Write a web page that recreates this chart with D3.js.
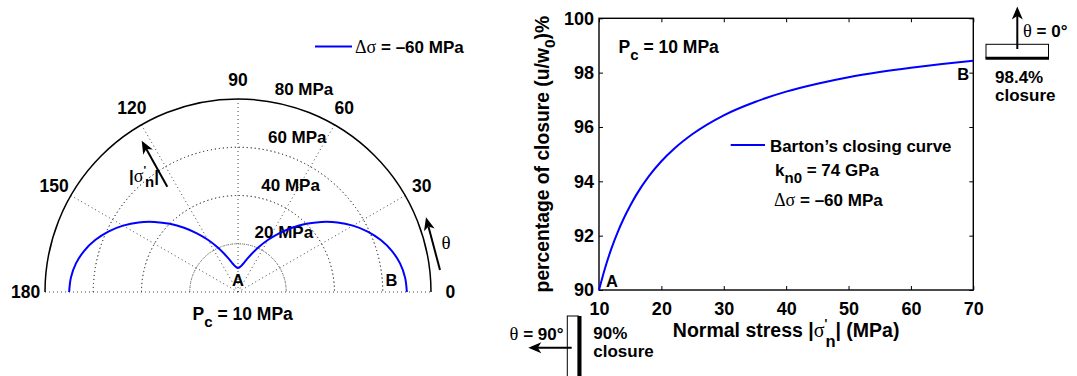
<!DOCTYPE html>
<html>
<head>
<meta charset="utf-8">
<script src="https://cdn.jsdelivr.net/npm/d3@7"></script>
<style>
  html, body { margin: 0; padding: 0; background: #fff; }
  svg { display: block; }
  text { font-family: "Liberation Sans", Arial, sans-serif; font-weight: bold; fill: #000; }
  .serif { font-family: "Liberation Serif", "Times New Roman", serif; font-weight: normal; }
</style>
</head>
<body>
<svg id="chart" width="1077" height="376"></svg>
<script>
// ---------------- DATA ----------------
// Polar plot: normal stress |sigma_n'| (MPa) vs orientation theta (deg)
const polarTheta = [0,5,10,15,20,25,30,35,40,45,50,55,60,65,70,75,80,85,90,
                    95,100,105,110,115,120,125,130,135,140,145,150,155,160,165,170,175,180];
const polarSigma = [70,69.5,68.2,66.0,63.0,59.3,55.0,50.3,45.2,40.0,34.8,29.7,25.0,20.7,17.0,14.0,11.8,10.5,10.0,
                    10.5,11.8,14.0,17.0,20.7,25.0,29.7,34.8,40.0,45.2,50.3,55.0,59.3,63.0,66.0,68.2,69.5,70];
const polarRingTicks = [20, 40, 60, 80];
const polarAngleTicks = [0, 30, 60, 90, 120, 150, 180];

// Right plot: Barton's closing curve
const stressX = [10,11,12,13,14,15,16,18,20,22,25,30,35,40,45,50,55,60,65,70];
const closurePct = [90.00,90.83,91.53,92.13,92.65,93.10,93.51,94.19,94.74,95.19,95.74,96.43,96.92,97.30,97.59,97.83,98.02,98.18,98.32,98.44];
const xTicks = [10,20,30,40,50,60,70];
const yTicks = [90,92,94,96,98,100];

// ---------------- SETUP ----------------
const svg = d3.select("#chart");
svg.append("rect").attr("width",1077).attr("height",376).attr("fill","#fff");
const BLUE = "#0000ff";

function arrow(g, x1, y1, x2, y2, opts = {}) {
  const len = opts.len || 13, half = opts.half || 5.5, notch = opts.notch || 3.5;
  const dx = x2 - x1, dy = y2 - y1, L = Math.hypot(dx, dy);
  const ux = dx / L, uy = dy / L, px = -uy, py = ux;
  g.append("line").attr("x1", x1).attr("y1", y1)
    .attr("x2", x2 - ux * (len - notch)).attr("y2", y2 - uy * (len - notch))
    .attr("stroke", "#000").attr("stroke-width", opts.w || 2);
  const bx = x2 - ux * len, by = y2 - uy * len;
  const nx = x2 - ux * (len - notch), ny = y2 - uy * (len - notch);
  g.append("path")
    .attr("d", `M${x2},${y2}L${bx + px * half},${by + py * half}L${nx},${ny}L${bx - px * half},${by - py * half}Z`)
    .attr("fill", "#000");
}

// ---------------- POLAR PLOT ----------------
const cx = 238, cy = 292, R = 193;
const rScale = d3.scaleLinear().domain([0, 80]).range([0, R]);
const toRad = d => d * Math.PI / 180;
const pg = svg.append("g");

// dotted rings
polarRingTicks.slice(0, -1).forEach(v => {
  const r = rScale(v);
  pg.append("path")
    .attr("d", d3.arc()({innerRadius: r, outerRadius: r, startAngle: -Math.PI/2, endAngle: Math.PI/2}))
    .attr("transform", `translate(${cx},${cy})`)
    .attr("fill", "none").attr("stroke", "#444").attr("stroke-width", 1).attr("stroke-dasharray", "1,3");
});
// spokes
[30, 60, 90, 120, 150].forEach(a => {
  pg.append("line")
    .attr("x1", cx).attr("y1", cy)
    .attr("x2", cx + rScale(80) * Math.cos(toRad(a)))
    .attr("y2", cy - rScale(80) * Math.sin(toRad(a)))
    .attr("stroke", "#444").attr("stroke-width", 1).attr("stroke-dasharray", "1,3");
});
// baseline 0-180
pg.append("line").attr("x1", cx - R).attr("y1", cy).attr("x2", cx + R).attr("y2", cy)
  .attr("stroke", "#444").attr("stroke-width", 1).attr("stroke-dasharray", "1,3");
// outer solid ring
pg.append("path")
  .attr("d", d3.arc()({innerRadius: R, outerRadius: R, startAngle: -Math.PI/2, endAngle: Math.PI/2}))
  .attr("transform", `translate(${cx},${cy})`)
  .attr("fill", "none").attr("stroke", "#000").attr("stroke-width", 1.5);

// angle labels
polarAngleTicks.forEach(a => {
  pg.append("text")
    .attr("x", cx + 1.1 * R * Math.cos(toRad(a)))
    .attr("y", cy - 1.1 * R * Math.sin(toRad(a)))
    .attr("text-anchor", "middle").attr("dy", "0.36em")
    .attr("font-size", 17.5).text(a);
});
// ring labels (MATLAB style at 82 deg)
polarRingTicks.forEach(v => {
  const rr = rScale(v + 1);
  pg.append("text")
    .attr("x", cx + rr * Math.cos(toRad(82)) + 9.5)
    .attr("y", cy - rr * Math.sin(toRad(82)) - 3.5)
    .attr("font-size", 17).text(v + " MPa");
});

// blue curve
const polarPts = polarTheta.map((t, i) => [
  cx + rScale(polarSigma[i]) * Math.cos(toRad(t)),
  cy - rScale(polarSigma[i]) * Math.sin(toRad(t))
]);
pg.append("path").attr("d", d3.line().curve(d3.curveCatmullRom)(polarPts))
  .attr("fill", "none").attr("stroke", BLUE).attr("stroke-width", 2);

// legend
pg.append("line").attr("x1", 315).attr("x2", 352).attr("y1", 46.5).attr("y2", 46.5)
  .attr("stroke", BLUE).attr("stroke-width", 2);
{
  const t = pg.append("text").attr("x", 355).attr("y", 53).attr("font-size", 17);
  t.append("tspan").attr("class", "serif").attr("font-size", 18).text("\u0394\u03c3");
  t.append("tspan").text(" = \u201360 MPa");
}
// A, B
pg.append("text").attr("x", cx).attr("y", 286).attr("text-anchor", "middle").attr("font-size", 16.5).text("A");
pg.append("text").attr("x", 391.5).attr("y", 286).attr("text-anchor", "middle").attr("font-size", 16.5).text("B");
// Pc label
{
  const t = pg.append("text").attr("x", 192.5).attr("y", 320).attr("font-size", 17.5);
  t.append("tspan").text("P");
  t.append("tspan").attr("dy", 7).attr("font-size", 15).text("c");
  t.append("tspan").attr("dy", -7).text(" = 10 MPa");
}
// sigma arrow
arrow(pg, 167.3, 186.7, 141.7, 140.7);
{
  const t = pg.append("text").attr("x", 129).attr("y", 181.5).attr("font-size", 17);
  t.append("tspan").text("|");
  t.append("tspan").attr("class", "serif").attr("font-size", 18).text("\u03c3");
  t.append("tspan").attr("dy", -8).attr("font-size", 11).text("'");
  t.append("tspan").attr("dx", -1).attr("dy", 13).attr("font-size", 15).text("n");
  t.append("tspan").attr("dy", -5).text("|");
}
// theta arrow
arrow(pg, 440, 270, 426, 217.3);
pg.append("text").attr("class", "serif").attr("x", 441.5).attr("y", 248.5).attr("font-size", 19).text("\u03b8");

// ---------------- RIGHT PLOT ----------------
const x0 = 599, x1 = 973.3, y0 = 18.3, y1 = 290;
const xs = d3.scaleLinear().domain([10, 70]).range([x0, x1]);
const ys = d3.scaleLinear().domain([90, 100]).range([y1, y0]);
const rg = svg.append("g");

// box
rg.append("rect").attr("x", x0).attr("y", y0).attr("width", x1 - x0).attr("height", y1 - y0)
  .attr("fill", "none").attr("stroke", "#000").attr("stroke-width", 1.4);

const tk = 4;
const bottomAxis = d3.axisBottom(xs).tickValues(xTicks).tickSize(-tk).tickPadding(12);
const leftAxis = d3.axisLeft(ys).tickValues(yTicks).tickSize(-tk).tickPadding(5);
const topAxis = d3.axisTop(xs).tickValues(xTicks).tickSize(-tk).tickFormat("");
const rightAxis = d3.axisRight(ys).tickValues(yTicks).tickSize(-tk).tickFormat("");

function styleAxis(g) {
  g.select(".domain").remove();
  g.selectAll("line").attr("stroke", "#000").attr("stroke-width", 1);
  g.selectAll("text").attr("font-family", "Liberation Sans, Arial, sans-serif").attr("font-weight", "bold")
    .attr("font-size", 18).attr("fill", "#000");
}
rg.append("g").attr("transform", `translate(0,${y1})`).call(bottomAxis).call(styleAxis);
rg.append("g").attr("transform", `translate(${x0},0)`).call(leftAxis).call(styleAxis);
rg.append("g").attr("transform", `translate(0,${y0})`).call(topAxis).call(styleAxis);
rg.append("g").attr("transform", `translate(${x1},0)`).call(rightAxis).call(styleAxis);

// curve
rg.append("path")
  .attr("d", d3.line().x((d, i) => xs(stressX[i])).y(d => ys(d)).curve(d3.curveMonotoneX)(closurePct))
  .attr("fill", "none").attr("stroke", BLUE).attr("stroke-width", 2);

// x title
{
  const t = rg.append("text").attr("x", (x0 + x1) / 2).attr("y", 336.5).attr("text-anchor", "middle").attr("font-size", 19.5);
  t.append("tspan").text("Normal stress |");
  t.append("tspan").attr("class", "serif").attr("font-size", 20).text("\u03c3");
  t.append("tspan").attr("dy", -9).attr("font-size", 12).text("'");
  t.append("tspan").attr("dx", -2).attr("dy", 19).attr("font-size", 16.5).text("n");
  t.append("tspan").attr("dy", -10).text("| (MPa)");
}
// y title
{
  const t = rg.append("text").attr("transform", `translate(549,${(y0 + y1) / 2}) rotate(-90)`)
    .attr("text-anchor", "middle").attr("font-size", 19.3);
  t.append("tspan").text("percentage of closure (u/w");
  t.append("tspan").attr("dy", 6).attr("font-size", 15.5).text("0");
  t.append("tspan").attr("dy", -6).text(")%");
}
// Pc annotation
{
  const t = rg.append("text").attr("x", 618.5).attr("y", 52.5).attr("font-size", 17.5);
  t.append("tspan").text("P");
  t.append("tspan").attr("dy", 7).attr("font-size", 15).text("c");
  t.append("tspan").attr("dy", -7).text(" = 10 MPa");
}
// legend
rg.append("line").attr("x1", 730.7).attr("x2", 765).attr("y1", 145).attr("y2", 145)
  .attr("stroke", BLUE).attr("stroke-width", 2);
rg.append("text").attr("x", 770).attr("y", 151.5).attr("font-size", 16.9).text("Barton\u2019s closing curve");
{
  const t = rg.append("text").attr("x", 775).attr("y", 176).attr("font-size", 17);
  t.append("tspan").text("k");
  t.append("tspan").attr("dy", 7).attr("font-size", 15).text("n0");
  t.append("tspan").attr("dy", -7).text(" = 74 GPa");
}
{
  const t = rg.append("text").attr("x", 774).attr("y", 206).attr("font-size", 17);
  t.append("tspan").attr("class", "serif").attr("font-size", 18).text("\u0394\u03c3");
  t.append("tspan").text(" = \u201360 MPa");
}
rg.append("text").attr("x", xs(10) + 7).attr("y", 287).attr("font-size", 16.5).text("A");
rg.append("text").attr("x", xs(70) - 16).attr("y", 80).attr("font-size", 16.5).text("B");

// ---------------- INSETS ----------------
const ig = svg.append("g");
// top-right: theta = 0
ig.append("rect").attr("x", 986).attr("y", 44.3).attr("width", 62.5).attr("height", 13.5)
  .attr("fill", "#fff").attr("stroke", "#000").attr("stroke-width", 1);
ig.append("line").attr("x1", 985.5).attr("x2", 1049).attr("y1", 58.3).attr("y2", 58.3)
  .attr("stroke", "#000").attr("stroke-width", 3);
arrow(ig, 1017.3, 49, 1017.3, 6.5);
{
  const t = ig.append("text").attr("x", 1023).attr("y", 37.3).attr("font-size", 17);
  t.append("tspan").attr("class", "serif").attr("font-size", 18.5).text("\u03b8");
  t.append("tspan").text(" = 0\u00b0");
}
ig.append("text").attr("x", 995).attr("y", 83).attr("font-size", 17).text("98.4%");
ig.append("text").attr("x", 995).attr("y", 101).attr("font-size", 17).text("closure");

// bottom-left: theta = 90
ig.append("rect").attr("x", 567.3).attr("y", 316).attr("width", 11).attr("height", 70)
  .attr("fill", "#fff").attr("stroke", "#000").attr("stroke-width", 1);
ig.append("line").attr("x1", 579.5).attr("x2", 579.5).attr("y1", 316).attr("y2", 386)
  .attr("stroke", "#000").attr("stroke-width", 4);
arrow(ig, 571.7, 347.7, 528.3, 347.7);
{
  const t = ig.append("text").attr("x", 563.5).attr("y", 339.5).attr("text-anchor", "end").attr("font-size", 17);
  t.append("tspan").attr("class", "serif").attr("font-size", 18.5).text("\u03b8");
  t.append("tspan").text(" = 90\u00b0");
}
ig.append("text").attr("x", 593.3).attr("y", 338.5).attr("font-size", 17).text("90%");
ig.append("text").attr("x", 593.3).attr("y", 356.5).attr("font-size", 17).text("closure");
</script>
</body>
</html>
